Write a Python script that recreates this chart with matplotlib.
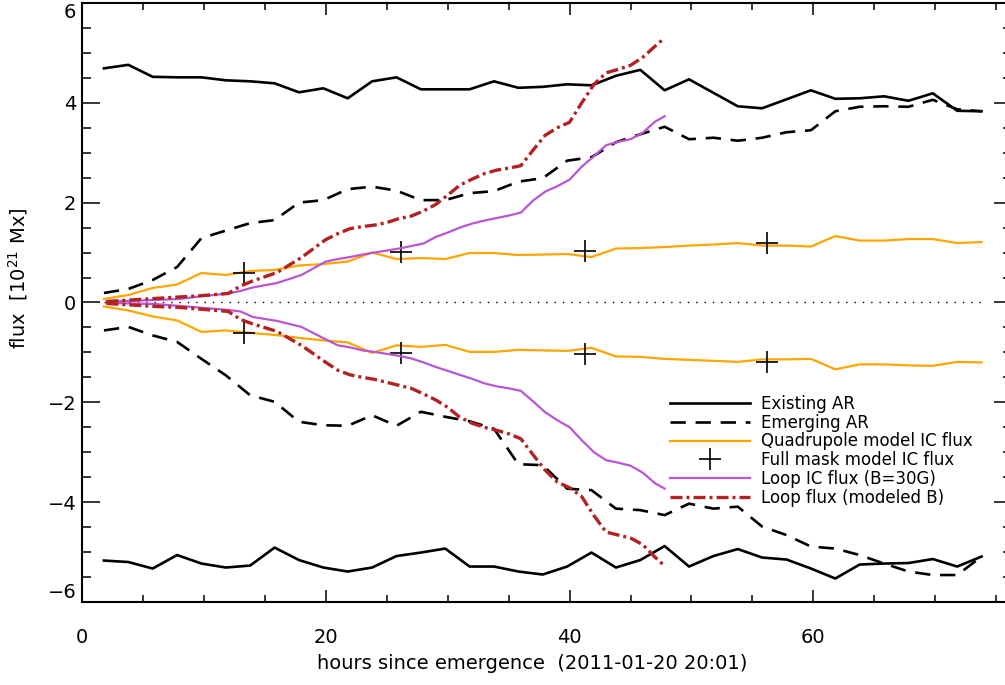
import numpy as np
import matplotlib.pyplot as plt

plt.rcParams['font.family'] = ['DejaVu Sans']
plt.rcParams['mathtext.fontset'] = 'dejavusans'

# time axis (hours since emergence), 2 h cadence for the AR fluxes
hours = [1.8, 3.8, 5.8, 7.8, 9.8, 11.8, 13.8, 15.8, 17.8, 19.8,
         21.8, 23.8, 25.8, 27.8, 29.8, 31.8, 33.8, 35.8, 37.8, 39.8,
         41.8, 43.8, 45.8, 47.8, 49.8, 51.8, 53.8, 55.8, 57.8, 59.8,
         61.8, 63.8, 65.8, 67.8, 69.8, 71.8, 73.8]

exist_pos = [4.69, 4.76, 4.52, 4.51, 4.51, 4.45, 4.43, 4.39, 4.21, 4.29,
             4.09, 4.43, 4.51, 4.27, 4.27, 4.27, 4.43, 4.30, 4.32, 4.37,
             4.35, 4.54, 4.66, 4.25, 4.47, 4.20, 3.93, 3.89, 4.07, 4.25,
             4.08, 4.09, 4.13, 4.04, 4.19, 3.84, 3.83]
exist_neg = [-5.17, -5.20, -5.33, -5.06, -5.23, -5.31, -5.27, -4.91, -5.16, -5.31,
             -5.39, -5.31, -5.08, -5.01, -4.93, -5.29, -5.29, -5.39, -5.45, -5.29,
             -5.01, -5.31, -5.16, -4.88, -5.29, -5.08, -4.94, -5.11, -5.15, -5.33,
             -5.53, -5.25, -5.23, -5.22, -5.14, -5.29, -5.09]

emerg_pos = [0.19, 0.27, 0.45, 0.71, 1.29, 1.44, 1.59, 1.65, 2.00, 2.05,
             2.27, 2.32, 2.24, 2.05, 2.05, 2.19, 2.23, 2.42, 2.49, 2.84,
             2.91, 3.21, 3.37, 3.52, 3.27, 3.30, 3.24, 3.30, 3.41, 3.45,
             3.83, 3.92, 3.93, 3.92, 4.06, 3.87, 3.83]
emerg_neg = [-0.56, -0.49, -0.66, -0.79, -1.13, -1.46, -1.86, -1.99, -2.39, -2.46,
             -2.47, -2.26, -2.47, -2.19, -2.29, -2.38, -2.53, -3.24, -3.26, -3.73,
             -3.76, -4.13, -4.16, -4.26, -4.03, -4.13, -4.09, -4.49, -4.66, -4.89,
             -4.93, -5.06, -5.23, -5.39, -5.46, -5.46, -5.09]

quad_pos = [0.07, 0.15, 0.29, 0.36, 0.59, 0.55, 0.63, 0.65, 0.74, 0.77,
            0.82, 1.00, 0.87, 0.89, 0.87, 0.99, 0.99, 0.95, 0.96, 0.97,
            0.91, 1.08, 1.09, 1.11, 1.14, 1.16, 1.19, 1.14, 1.14, 1.12,
            1.33, 1.24, 1.24, 1.27, 1.27, 1.19, 1.21]
quad_neg = [-0.08, -0.16, -0.28, -0.36, -0.59, -0.56, -0.61, -0.65, -0.71, -0.76,
            -0.80, -1.01, -0.86, -0.89, -0.85, -0.99, -0.99, -0.95, -0.96, -0.97,
            -0.91, -1.08, -1.09, -1.13, -1.15, -1.17, -1.19, -1.14, -1.14, -1.13,
            -1.34, -1.24, -1.24, -1.26, -1.27, -1.19, -1.20]

# full mask model, only a few epochs
mask_hours = [13.3, 26.2, 41.3, 56.2]
mask_pos = [0.59, 1.01, 1.03, 1.19]
mask_neg = [-0.61, -1.01, -1.03, -1.19]

# loop fluxes, finer cadence, stop at ~48 h
loop_hours = [2, 4, 6, 8, 10, 12, 13, 14, 16, 18, 20, 21, 22, 23, 24, 25, 26,
              27, 28, 29, 30, 31, 32, 33, 34, 35, 36, 37, 38, 39, 40, 41, 42,
              43, 44, 45, 46, 47, 47.8]
loop_ic_pos = [0.02, 0.03, 0.05, 0.07, 0.13, 0.18, 0.23, 0.30, 0.39, 0.55,
               0.82, 0.87, 0.91, 0.96, 1.00, 1.04, 1.08, 1.13, 1.18, 1.31,
               1.40, 1.50, 1.58, 1.64, 1.69, 1.74, 1.80, 2.04, 2.22, 2.33,
               2.46, 2.72, 2.93, 3.15, 3.22, 3.27, 3.40, 3.62, 3.73]
loop_ic_neg = [-0.01, -0.02, -0.03, -0.07, -0.11, -0.15, -0.18, -0.29, -0.37, -0.49,
               -0.74, -0.86, -0.90, -0.96, -0.99, -1.03, -1.07, -1.12, -1.20, -1.29,
               -1.37, -1.45, -1.53, -1.62, -1.68, -1.72, -1.77, -1.98, -2.20, -2.36,
               -2.50, -2.76, -3.00, -3.16, -3.21, -3.27, -3.41, -3.62, -3.73]
loop_mod_pos = [0.02, 0.05, 0.08, 0.11, 0.14, 0.18, 0.33, 0.43, 0.60, 0.90,
                1.26, 1.38, 1.48, 1.52, 1.55, 1.60, 1.68, 1.73, 1.83, 1.96,
                2.15, 2.35, 2.47, 2.58, 2.65, 2.69, 2.74, 3.05, 3.35, 3.50,
                3.61, 4.00, 4.37, 4.60, 4.67, 4.75, 4.91, 5.13, 5.30]
loop_mod_neg = [-0.02, -0.05, -0.08, -0.10, -0.14, -0.18, -0.34, -0.43, -0.58, -0.86,
                -1.20, -1.36, -1.45, -1.50, -1.54, -1.60, -1.66, -1.72, -1.83, -1.95,
                -2.10, -2.30, -2.42, -2.50, -2.56, -2.63, -2.73, -3.05, -3.36, -3.60,
                -3.71, -3.89, -4.27, -4.60, -4.66, -4.72, -4.85, -5.10, -5.28]

orange = '#ffa500'
purple = '#ba55d3'
red = '#b22222'
dash = (0, (5.8, 3.7))
dashdot = (0, (3.6, 1.2, 0.9, 1.2))

fig = plt.figure(figsize=(10.05, 6.85), dpi=100)
ax = fig.add_axes([0.0816, 0.1212, 0.9254, 0.8745])

ax.hlines(0, hours[0], hours[-1], colors='k', linewidth=1.0, linestyles=(0, (1, 5)))

ax.plot(hours, exist_pos, color='k', lw=1.9, label='Existing AR')
ax.plot(hours, exist_neg, color='k', lw=1.9)
ax.plot(hours, emerg_pos, color='k', lw=1.9, ls=dash, label='Emerging AR')
ax.plot(hours, emerg_neg, color='k', lw=1.9, ls=dash)
ax.plot(hours, quad_pos, color=orange, lw=1.6, label='Quadrupole model IC flux')
ax.plot(hours, quad_neg, color=orange, lw=1.6)
ax.plot(mask_hours, mask_pos, ls='none', marker='+', ms=16, mew=1.2, color='k',
        label='Full mask model IC flux')
ax.plot(mask_hours, mask_neg, ls='none', marker='+', ms=16, mew=1.2, color='k')
ax.plot(loop_hours, loop_ic_pos, color=purple, lw=1.6, label='Loop IC flux (B=30G)')
ax.plot(loop_hours, loop_ic_neg, color=purple, lw=1.6)
ax.plot(loop_hours, loop_mod_pos, color=red, lw=2.4, ls=dashdot, label='Loop flux (modeled B)')
ax.plot(loop_hours, loop_mod_neg, color=red, lw=2.4, ls=dashdot)

ax.set_xlim(0, 76.3)
ax.set_ylim(-6, 6)
ax.set_xticks([0, 20, 40, 60])
ax.set_xticks(np.arange(0, 76, 5), minor=True)
ax.set_yticks([-6, -4, -2, 0, 2, 4, 6])
ax.set_yticks(np.arange(-6, 6.1, 0.5), minor=True)

for s in ax.spines.values():
    s.set_linewidth(1.5)
ax.tick_params(which='both', direction='in', top=True, right=True, width=1.1,
               labelsize=14, colors='k')
ax.tick_params(axis='x', which='major', length=8.6, pad=19)
ax.tick_params(axis='x', which='minor', length=5)
ax.tick_params(axis='y', which='major', length=13, pad=4)
ax.tick_params(axis='y', which='minor', length=6.5)

# keep the end labels of the y axis inside the frame
fig.canvas.draw()
ylabels = ax.get_yticklabels()
ylabels[-1].set_va('top')
ylabels[0].set_va('bottom')

ax.set_xlabel('hours since emergence  (2011-01-20 20:01)', fontsize=14)
ax.set_ylabel(r'flux  [10$^{21}$ Mx]', fontsize=14, va='center')
ax.xaxis.set_label_coords(0.484, -0.087)
ax.yaxis.set_label_coords(-0.069, 0.54)

ax.legend(loc='upper left', bbox_to_anchor=(0.632, 0.346), frameon=False,
          fontsize=12, handlelength=4.8, handletextpad=0.65, labelspacing=0.05,
          borderpad=0, borderaxespad=0, numpoints=1)

fig.savefig('out.png', dpi=100)
